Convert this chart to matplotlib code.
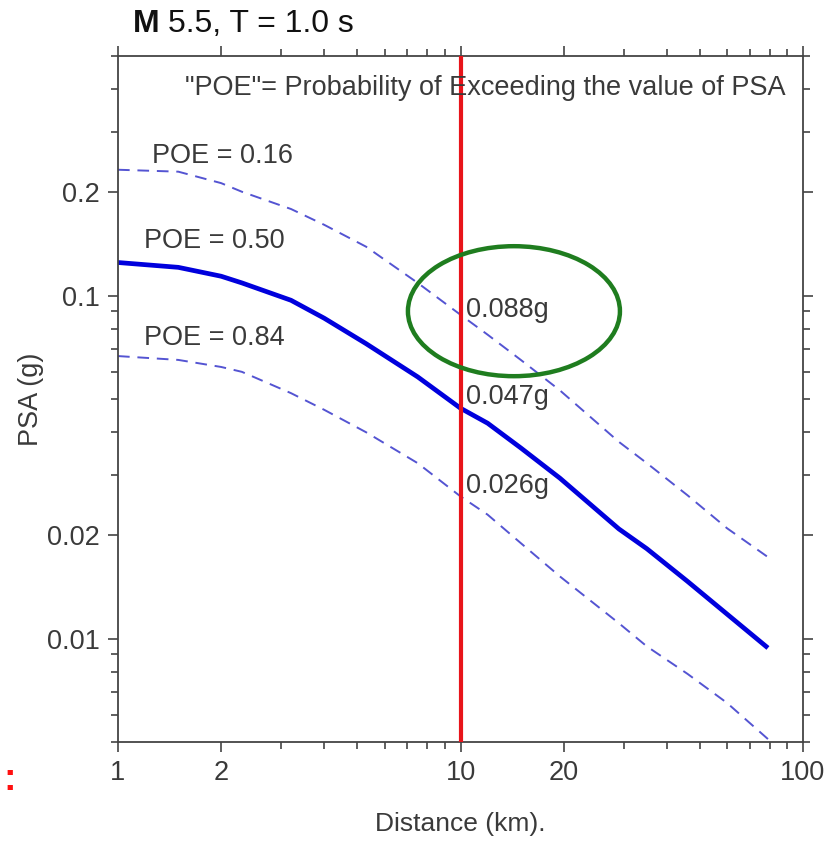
import matplotlib
matplotlib.use("Agg")
import matplotlib.pyplot as plt
from matplotlib.patches import Ellipse
from matplotlib.ticker import FixedLocator, NullFormatter

plt.rcParams["font.family"] = ["Liberation Sans", "DejaVu Sans"]

# distance (km) and PSA (g)
distance_km = [1, 1.5, 2, 2.3, 3.2, 4, 5.3, 7.5, 10, 12, 15, 19.5, 29, 35, 46, 60, 79]
psa_poe_16 = [0.233, 0.230, 0.213, 0.201, 0.179, 0.161, 0.139, 0.109, 0.088, 0.077,
              0.065, 0.053, 0.0375, 0.0325, 0.0262, 0.021, 0.0173]
psa_poe_50 = [0.125, 0.121, 0.114, 0.109, 0.097, 0.086, 0.0725, 0.058, 0.047, 0.0425,
              0.036, 0.0294, 0.0209, 0.0183, 0.0147, 0.0118, 0.0094]
psa_poe_84 = [0.0667, 0.065, 0.062, 0.060, 0.052, 0.0465, 0.040, 0.0325, 0.026, 0.023,
              0.019, 0.0152, 0.0111, 0.0095, 0.0079, 0.0065, 0.0051]

site_distance_km = 10
site_values = ["0.088g", "0.047g", "0.026g"]
site_label_y = [0.091, 0.0506, 0.0279]

poe_labels = ["POE = 0.16", "POE = 0.50", "POE = 0.84"]
poe_label_x = [1.257, 1.19, 1.19]
poe_label_y = [0.256, 0.144, 0.0753]

x_major = [1, 2, 10, 20, 100]
x_minor = [3, 4, 5, 6, 7, 8, 9, 30, 40, 50, 60, 70, 80, 90]
y_major = [0.01, 0.02, 0.1, 0.2]
y_minor = [0.005, 0.006, 0.007, 0.008, 0.009, 0.03, 0.04, 0.05, 0.06, 0.07, 0.08, 0.09,
           0.3, 0.4, 0.5]

text_color = "#3a3a3a"
axis_color = "#444444"
fs = 19.5

fig = plt.figure(figsize=(8.33, 8.42), dpi=100)
ax = fig.add_axes([118 / 833, 1 - 742 / 842, 685 / 833, 686 / 842])
ax.set_xscale("log")
ax.set_yscale("log")
ax.set_xlim(1, 100)
ax.set_ylim(0.005, 0.5)

dash_color = "#5454d2"
ax.plot(distance_km, psa_poe_16, color=dash_color, lw=1.4, dashes=(6, 4))
ax.plot(distance_km, psa_poe_84, color=dash_color, lw=1.4, dashes=(6, 4))
ax.plot(distance_km, psa_poe_50, color="#0000dd", lw=3.4, solid_capstyle="butt")
ax.axvline(site_distance_km, color="#e8141a", lw=3.0, zorder=3)

for label, x, y in zip(poe_labels, poe_label_x, poe_label_y):
    ax.text(x, y, label, fontsize=fs, color=text_color, ha="left", va="center")
for label, y in zip(site_values, site_label_y):
    ax.text(10.4, y, label, fontsize=fs, color=text_color, ha="left", va="center", zorder=4)

ax.text(0.974, 0.953, '"POE"= Probability of Exceeding the value of PSA',
        transform=ax.transAxes, fontsize=fs, color=text_color, ha="right", va="center")

ax.add_patch(Ellipse((0.578, 0.628), 0.3095, 0.1895, transform=ax.transAxes,
                     fill=False, edgecolor="#1f7d1f", lw=3.2, zorder=5))

ax.xaxis.set_major_locator(FixedLocator(x_major))
ax.xaxis.set_minor_locator(FixedLocator(x_minor))
ax.yaxis.set_major_locator(FixedLocator(y_major))
ax.yaxis.set_minor_locator(FixedLocator(y_minor))
ax.set_xticklabels(["1", "2", "10", "20", "100"])
ax.set_yticklabels(["0.01", "0.02", "0.1", "0.2"])
ax.xaxis.set_minor_formatter(NullFormatter())
ax.yaxis.set_minor_formatter(NullFormatter())

ax.tick_params(which="both", direction="out", top=True, right=True,
               color=axis_color, width=1.2, labelsize=fs, labelcolor=text_color)
ax.tick_params(which="major", length=7, pad=6)
ax.tick_params(which="minor", length=5)
for spine in ax.spines.values():
    spine.set_color(axis_color)
    spine.set_linewidth(1.3)

ax.set_xlabel("Distance (km).", fontsize=19, color=text_color, labelpad=19)
ax.set_ylabel("PSA (g)", fontsize=fs, color=text_color, labelpad=2)

fig.text(133 / 833, 1 - 24 / 842, "M", fontsize=23, fontweight="bold", color="#111111",
         ha="left", va="center")
fig.text(168 / 833, 1 - 24 / 842, "5.5, T = 1.0 s", fontsize=23, color="#111111",
         ha="left", va="center")

fig.text(10 / 833, 1 - 780 / 842, ":", fontsize=27, fontweight="bold", color="#ff1010",
         ha="center", va="center")

fig.savefig("out.png", dpi=100, facecolor="white")
